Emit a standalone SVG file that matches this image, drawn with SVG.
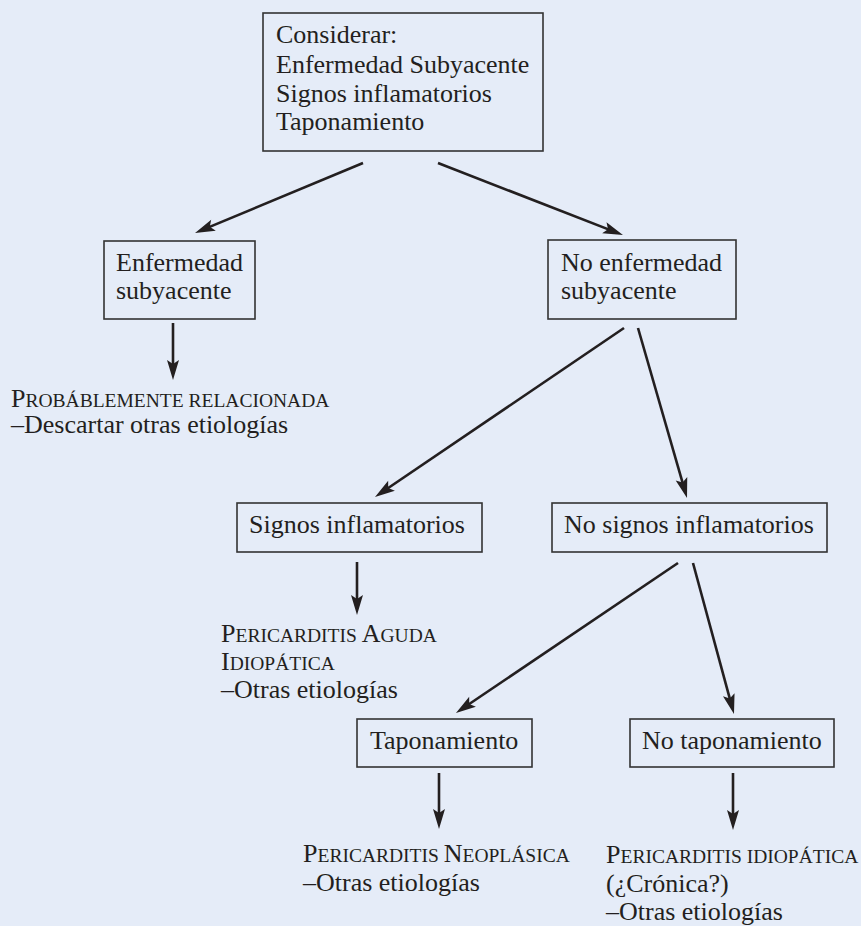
<svg xmlns="http://www.w3.org/2000/svg" width="861" height="926" viewBox="0 0 861 926">
<style>
.box{fill:none;stroke:#333;stroke-width:1.6}
.t{font-family:"Liberation Serif","Times New Roman",serif;font-size:26px;fill:#231f20}
.sc{font-size:19.5px}
.c{fill:none;stroke:#231f20;stroke-width:2.6}
</style>
<defs>
<marker id="ah" markerUnits="userSpaceOnUse" markerWidth="20" markerHeight="12" refX="12" refY="6" orient="auto" overflow="visible">
<path d="M0,0 L20,6 L0,12 L4,6 Z" fill="#231f20"/>
</marker>
</defs>
<rect width="861" height="926" fill="#e5ecf8"/>
<g id="connectors">
<line class="c" x1="363" y1="163" x2="202.4" y2="229.9" marker-end="url(#ah)"/>
<line class="c" x1="438" y1="163" x2="615.5" y2="232.1" marker-end="url(#ah)"/>
<line class="c" x1="173" y1="323" x2="173" y2="372" marker-end="url(#ah)"/>
<line class="c" x1="624" y1="328" x2="381.6" y2="492.5" marker-end="url(#ah)"/>
<line class="c" x1="638" y1="328" x2="684.8" y2="490.3" marker-end="url(#ah)"/>
<line class="c" x1="357" y1="562" x2="357" y2="607" marker-end="url(#ah)"/>
<line class="c" x1="678" y1="563" x2="462.6" y2="708.5" marker-end="url(#ah)"/>
<line class="c" x1="693" y1="563" x2="731.9" y2="706.3" marker-end="url(#ah)"/>
<line class="c" x1="439" y1="773" x2="439" y2="821" marker-end="url(#ah)"/>
<line class="c" x1="733" y1="773" x2="733" y2="822" marker-end="url(#ah)"/>
</g>
<g id="considerar">
<rect class="box" x="263" y="13" width="280" height="138"/>
<text class="t" x="276" y="43">Considerar:</text>
<text class="t" x="276" y="72.5">Enfermedad Subyacente</text>
<text class="t" x="276" y="101.5">Signos inflamatorios</text>
<text class="t" x="276" y="130">Taponamiento</text>
</g>
<g id="enfermedad">
<rect class="box" x="104" y="241" width="151" height="78"/>
<text class="t" x="116" y="271">Enfermedad</text>
<text class="t" x="116" y="298.5">subyacente</text>
</g>
<g id="no-enfermedad">
<rect class="box" x="548" y="240" width="188" height="79"/>
<text class="t" x="561" y="271">No enfermedad</text>
<text class="t" x="561" y="298.5">subyacente</text>
</g>
<g id="probablemente">
<text class="t" x="11" y="407">P<tspan class="sc">ROBÁBLEMENTE RELACIONADA</tspan></text>
<text class="t" x="11" y="433">–Descartar otras etiologías</text>
</g>
<g id="signos">
<rect class="box" x="237" y="503" width="245" height="49"/>
<text class="t" x="249" y="533">Signos inflamatorios</text>
</g>
<g id="no-signos">
<rect class="box" x="552" y="503" width="275" height="49"/>
<text class="t" x="564" y="533">No signos inflamatorios</text>
</g>
<g id="pericarditis-aguda">
<text class="t" x="221" y="642">P<tspan class="sc">ERICARDITIS </tspan>A<tspan class="sc">GUDA</tspan></text>
<text class="t" x="221" y="670">I<tspan class="sc">DIOPÁTICA</tspan></text>
<text class="t" x="221" y="698">–Otras etiologías</text>
</g>
<g id="taponamiento">
<rect class="box" x="357" y="719" width="175" height="48"/>
<text class="t" x="370" y="749">Taponamiento</text>
</g>
<g id="no-taponamiento">
<rect class="box" x="630" y="719" width="204" height="48"/>
<text class="t" x="642" y="749">No taponamiento</text>
</g>
<g id="pericarditis-neoplasica">
<text class="t" x="303" y="862">P<tspan class="sc">ERICARDITIS </tspan>N<tspan class="sc">EOPLÁSICA</tspan></text>
<text class="t" x="303" y="891">–Otras etiologías</text>
</g>
<g id="pericarditis-idiopatica">
<text class="t" x="606" y="863">P<tspan class="sc">ERICARDITIS IDIOPÁTICA</tspan></text>
<text class="t" x="606" y="892">(¿Crónica?)</text>
<text class="t" x="606" y="920">–Otras etiologías</text>
</g>
</svg>
